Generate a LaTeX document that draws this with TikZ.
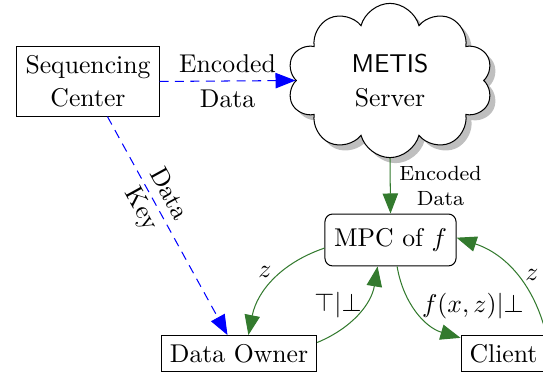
\documentclass[tikz,border=0pt]{standalone}
\usetikzlibrary{arrows.meta,shapes.symbols,shadows}
\definecolor{mygreen}{RGB}{51,122,46}
\begin{document}
\begin{tikzpicture}[x=0.3891pt,y=0.3891pt,
  box/.style={draw, align=center, inner sep=3.33pt},
  tip/.style={-{Triangle[length=7.8pt,width=6pt]}},
  bluearr/.style={tip, blue, dash pattern=on 3.5pt off 2.5pt},
  greenarr/.style={tip, mygreen},
  lbl/.style={text=black, inner sep=1pt}]
\useasboundingbox (0,0) rectangle (543,-376);
\node[box, minimum height=26.8pt] (sc) at (88,-81.5) {Sequencing\\[1pt]Center};
\node[cloud, cloud puffs=10, cloud puff arc=150, cloud ignores aspect, draw, fill=white, drop shadow,
      minimum width=80pt, minimum height=60pt, align=center] (ms) at (390,-80.5) {{\sffamily METIS}\\[1.5pt]Server};
\node[box, rounded corners=3pt, minimum width=51pt, minimum height=20.2pt] (mpc) at (390.5,-240) {MPC of $f$};
\node[box] (do) at (239,-353.5) {Data Owner};
\node[box] (cl) at (503.5,-353.5) {Client};

\draw[bluearr] (sc.east) -- node[text=black, align=center] (l1) {Encoded\\[1.5pt]Data} (ms.west);
\draw[bluearr] (sc.-61) -- node[text=black, sloped, align=center, pos=0.39] (l2) {Data\\Key} (do.122);
\draw[greenarr] (ms.south) -- node[text=black, right, align=center, font=\footnotesize] (l3) {Encoded\\Data} (mpc.north);
\draw[greenarr] (mpc.187) to[bend right=30] (do.63);
\draw[greenarr] (do.8) to[bend right=29] (mpc.244);
\draw[greenarr] (mpc.-76) to[bend right=32] (cl.160);
\draw[greenarr] (cl.23) to[bend right=29] (mpc.2);
\node[lbl] (l4) at (265,-272) {$z$};
\node[lbl] (l5) at (338,-305) {$\top|\bot$};
\node[lbl, anchor=west] (l6) at (419,-306) {$f(x,z)|\bot$};
\node[lbl] (l7) at (532,-275) {$z$};
\end{tikzpicture}
\end{document}
